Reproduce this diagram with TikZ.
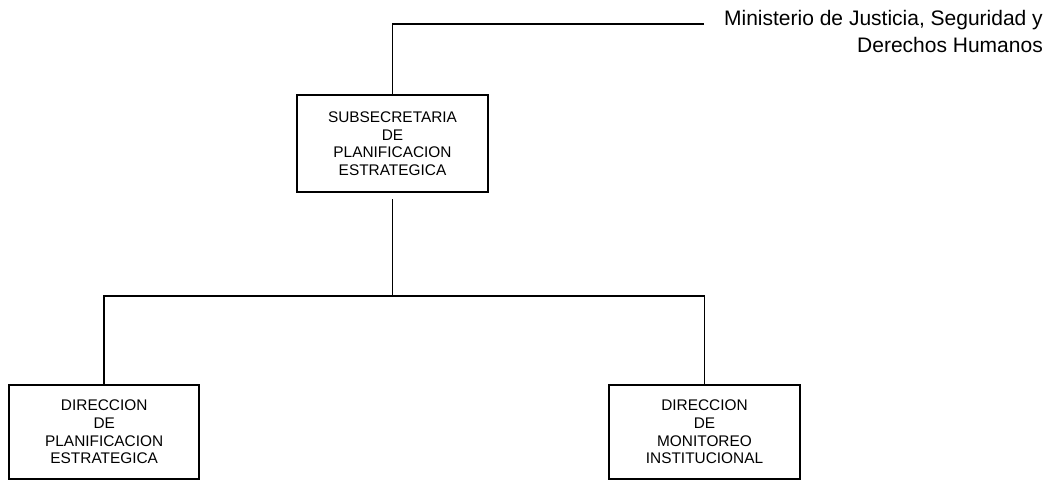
\documentclass[tikz,border=0pt]{standalone}
\usepackage{fontspec}
\setmainfont{Liberation Sans}
\begin{document}
\begin{tikzpicture}[x=1pt,y=-1pt,
  line/.style={line width=1.8pt},
  unitbox/.style={draw,line width=1.8pt,align=center,inner sep=0pt,
    font=\fontsize{15.4}{17.6}\selectfont},
  titletext/.style={align=right,inner sep=0pt,anchor=north east,
    font=\fontsize{21}{27.5}\selectfont}]
\useasboundingbox (0,0) rectangle (1055,481);
\node[unitbox,minimum width=191.6pt,minimum height=97pt] (top) at (392.5,143.8)
  {SUBSECRETARIA\\DE\\PLANIFICACION\\ESTRATEGICA};
\node[unitbox,minimum width=189.7pt,minimum height=94pt] (left) at (104.2,432)
  {DIRECCION\\DE\\PLANIFICACION\\ESTRATEGICA};
\node[unitbox,minimum width=190.4pt,minimum height=94pt] (right) at (704.5,432)
  {DIRECCION\\DE\\MONITOREO\\INSTITUCIONAL};
\node[titletext] (min) at (1043,10)
  {Ministerio de Justicia, Seguridad y\\Derechos Humanos};
\coordinate (minend) at (704,24);
\coordinate (bus) at (392.5,295.7);
\draw[line] (minend) -| (top.north);
\draw[line] ([yshift=-6pt]top.south) -- (bus);
\draw[line] (left.north) |- (bus) -| (right.north);
\end{tikzpicture}
\end{document}
